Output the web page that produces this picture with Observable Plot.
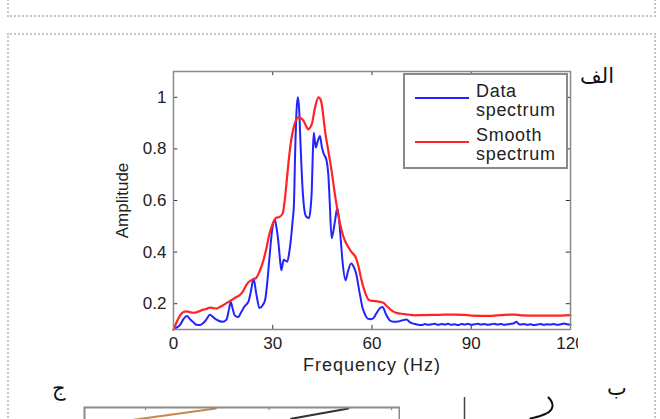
<!DOCTYPE html>
<html><head><meta charset="utf-8">
<script src="https://cdn.jsdelivr.net/npm/d3@7"></script>
<script src="https://cdn.jsdelivr.net/npm/@observablehq/plot@0.6"></script>
<style>
html,body{margin:0;padding:0;background:#fff;overflow:hidden;width:660px;height:419px;}
body{position:relative;font-family:"Liberation Sans",Arial,sans-serif;}
.box1{position:absolute;left:7px;top:-10px;width:649px;height:27px;border:2px dotted #c4c4c4;box-sizing:border-box;}
.box2{position:absolute;left:7px;top:33px;width:649px;height:420px;border:2px dotted #c4c4c4;box-sizing:border-box;}
#main{position:absolute;left:100px;top:60px;}
#legend{position:absolute;left:403px;top:73px;width:165px;height:96px;border:2px solid #8a8a8a;box-sizing:border-box;background:#fff;}
#legend svg{position:absolute;left:-2px;top:-2px;}
.ar{position:absolute;font-family:"DejaVu Sans",sans-serif;font-size:21px;color:#111;line-height:1;}
#pj{position:absolute;left:83px;top:406px;}
#pb{position:absolute;left:440px;top:395px;}
</style></head>
<body>
<div class="box1"></div>
<div class="box2"></div>
<div id="main"></div>
<div id="legend"></div>
<div class="ar" style="left:580px;top:66px;">الف</div>
<div class="ar" style="left:607px;top:378px;">ب</div>
<div class="ar" style="left:52px;top:378px;">ج</div>
<div id="pj"></div>
<div id="pb"></div>
<script>
// ---- main chart data ----
const xLabel = "Frequency (Hz)";
const yLabel = "Amplitude";
const seriesNames = ["Data\nspectrum", "Smooth\nspectrum"];
const xTicks = [0, 30, 60, 90, 120];
const yTicks = [0.2, 0.4, 0.6, 0.8, 1];

const freqBlue = [0,1,2,3,4,5,6,7,8,9,10,11,12,13,14,15,16,16.8,17.3,17.9,18.5,19.5,20.5,21.5,22.7,23.5,24.2,25,26,27,27.7,28.4,28.9,29.9,30.6,31.2,31.7,32.2,32.6,33.3,34.4,35,35.4,36,36.4,36.8,37.2,37.6,38,38.4,39,39.6,40.1,41,41.5,41.8,42.1,42.4,43,43.6,44.3,44.8,45.3,46.3,46.8,47.2,47.8,48.3,48.8,49.5,50.1,50.6,51.1,52,52.7,53.7,54.4,55.2,56.2,57.2,58,58.7,59.7,60.5,61.2,62.2,63.2,64.2,65.4,66.5,67.9,69,70.4,71.5,73,74,75,76,77,78,79,80,81,82,83,84,85,86,87,88,89,90,91,92,93,94,95,96,97,98,99,100,101,102,103,103.6,104.3,105,106,107,108,109,110,111,112,113,114,115,116,117,118,119,120];
const ampBlue = [0.100,0.108,0.118,0.140,0.152,0.140,0.128,0.118,0.117,0.125,0.140,0.157,0.148,0.138,0.132,0.130,0.138,0.180,0.207,0.180,0.155,0.148,0.168,0.190,0.210,0.255,0.298,0.240,0.183,0.195,0.215,0.290,0.363,0.493,0.525,0.490,0.440,0.370,0.330,0.370,0.363,0.400,0.440,0.520,0.584,0.800,0.950,1.000,0.950,0.818,0.649,0.560,0.538,0.532,0.580,0.640,0.780,0.863,0.805,0.830,0.850,0.810,0.785,0.753,0.700,0.600,0.454,0.480,0.519,0.571,0.520,0.440,0.363,0.291,0.324,0.356,0.345,0.317,0.246,0.181,0.155,0.142,0.140,0.145,0.160,0.180,0.187,0.160,0.135,0.130,0.131,0.135,0.139,0.128,0.121,0.118,0.117,0.121,0.118,0.120,0.122,0.118,0.121,0.119,0.122,0.118,0.120,0.117,0.121,0.119,0.122,0.118,0.120,0.122,0.119,0.121,0.118,0.120,0.122,0.119,0.121,0.118,0.120,0.122,0.125,0.130,0.122,0.119,0.121,0.118,0.120,0.117,0.119,0.121,0.118,0.120,0.119,0.121,0.118,0.120,0.123,0.120,0.118];

const freqRed = [0,1,2,3,4,5,6,7,8,9,10,11,12,13,14,15,16,17,18,19,20,21,22,23,24,25,26,27,28,29,30,31,32,33,33.8,34.4,35.4,36.6,37.8,38.6,39.3,40.2,40.8,41.4,41.8,42.8,43.8,44.4,44.8,45.3,45.8,46.8,47.8,48.8,49.8,50.7,51.5,52.2,53.7,55.2,56,56.7,57.5,58.2,59,59.7,61,62,63.4,64.5,65.9,67,68.9,71,73,75,80,85,88,90,95,100,103,105,110,115,120];
const ampRed = [0.100,0.130,0.155,0.168,0.170,0.167,0.165,0.167,0.172,0.177,0.180,0.185,0.183,0.181,0.187,0.194,0.202,0.210,0.218,0.226,0.233,0.248,0.272,0.287,0.294,0.300,0.325,0.360,0.410,0.470,0.510,0.533,0.536,0.550,0.620,0.701,0.818,0.896,0.922,0.918,0.909,0.885,0.876,0.885,0.896,0.961,1.000,0.993,0.974,0.925,0.870,0.792,0.714,0.623,0.545,0.490,0.455,0.434,0.402,0.376,0.340,0.298,0.260,0.233,0.215,0.212,0.210,0.208,0.204,0.190,0.174,0.166,0.161,0.158,0.155,0.156,0.157,0.158,0.157,0.154,0.153,0.157,0.158,0.155,0.154,0.154,0.156];

const seriesColors = ["#2323ff", "#ff2424"];

const blue = freqBlue.map((f, i) => ({f, a: ampBlue[i]}));
const red = freqRed.map((f, i) => ({f, a: ampRed[i]}));

const font = "'Liberation Sans', Arial, sans-serif";
const chart = Plot.plot({
  width: 478, height: 315,
  marginLeft: 73, marginRight: 8, marginTop: 11, marginBottom: 46,
  style: {fontFamily: font, fontSize: "17px", color: "#222", background: "white"},
  x: {domain: [0, 120], ticks: xTicks, tickSize: 0, tickPadding: 7, tickFormat: d => String(d), label: null},
  y: {domain: [0.1, 1.1], ticks: yTicks, tickSize: 0, tickPadding: 7, tickFormat: d => String(d), label: null},
  marks: [
    Plot.ruleY(yTicks, {x1: 0, x2: 1.3, stroke: "#333"}),
    Plot.ruleY(yTicks, {x1: 118.7, x2: 120, stroke: "#333"}),
    Plot.ruleX(xTicks, {y1: 0.1, y2: 0.116, stroke: "#333"}),
    Plot.ruleX(xTicks, {y1: 1.084, y2: 1.1, stroke: "#333"}),
    Plot.line(blue, {x: "f", y: "a", stroke: seriesColors[0], strokeWidth: 2, curve: "monotone-x"}),
    Plot.line(red, {x: "f", y: "a", stroke: seriesColors[1], strokeWidth: 2.2, curve: "monotone-x"}),
    Plot.frame({stroke: "#8a8a8a", strokeWidth: 1.5}),
    Plot.text([xLabel], {text: d => d, frameAnchor: "bottom", textAnchor: "middle", lineAnchor: "middle", dy: 36, fontSize: 18, fill: "#222", style: "letter-spacing:1px"}),
    Plot.text([yLabel], {text: d => d, frameAnchor: "left", textAnchor: "middle", lineAnchor: "middle", dx: -50.5, rotate: -90, fontSize: 17, fill: "#222"})
  ]
});
chart.querySelectorAll("text").forEach(t => {
  if (t.textContent === xLabel) t.setAttribute("letter-spacing", "1");
});
document.getElementById("main").appendChild(chart);

// ---- legend (HTML/SVG overlay) ----
(function () {
  const ns = "http://www.w3.org/2000/svg";
  const svg = document.createElementNS(ns, "svg");
  svg.setAttribute("width", 165); svg.setAttribute("height", 96);
  seriesNames.forEach((name, i) => {
    const y0 = 25 + i * 44;
    const ln = document.createElementNS(ns, "line");
    ln.setAttribute("x1", 12); ln.setAttribute("x2", 66);
    ln.setAttribute("y1", y0); ln.setAttribute("y2", y0);
    ln.setAttribute("stroke", seriesColors[i]); ln.setAttribute("stroke-width", 2);
    svg.appendChild(ln);
    name.split("\n").forEach((t, j) => {
      const tx = document.createElementNS(ns, "text");
      tx.setAttribute("x", 73); tx.setAttribute("y", y0 - 1 + j * 18.5);
      tx.setAttribute("font-family", font); tx.setAttribute("font-size", 18);
      tx.setAttribute("letter-spacing", "0.7");
      tx.setAttribute("fill", "#222");
      tx.textContent = t;
      svg.appendChild(tx);
    });
  });
  document.getElementById("legend").appendChild(svg);
})();

// ---- fragment of panel ج (cut off at bottom) ----
const jTicks = [19.4, 58.6, 97.5];
const jOrange = [{x: 15.6, y: 6.84}, {x: 41.7, y: 9.74}];
const jBlack = [{x: 65.6, y: 7.1}, {x: 83.8, y: 9.74}];
document.getElementById("pj").appendChild(Plot.plot({
  width: 317, height: 40, marginTop: 1, marginBottom: 0, marginLeft: 1, marginRight: 1,
  x: {domain: [0, 100], axis: null}, y: {domain: [0, 10], axis: null},
  style: {background: "transparent"},
  marks: [
    Plot.ruleX(jTicks, {y1: 10, y2: 9.2, stroke: "#777"}),
    Plot.line(jOrange, {x: "x", y: "y", stroke: "#c8894a", strokeWidth: 2}),
    Plot.line(jBlack, {x: "x", y: "y", stroke: "#333", strokeWidth: 2}),
    Plot.frame({stroke: "#8a8a8a", strokeWidth: 2})
  ]
}));

// ---- fragment of panel ب (cut off at bottom) ----
const bAxis = [24];
const bCurve = [{x: 108, y: 2}, {x: 111, y: 6}, {x: 112, y: 11}, {x: 109, y: 16}, {x: 101, y: 20}, {x: 90, y: 23}];
document.getElementById("pb").appendChild(Plot.plot({
  width: 140, height: 40, margin: 0,
  x: {domain: [0, 140], axis: null}, y: {domain: [0, 40], reverse: true, axis: null},
  style: {background: "transparent"},
  marks: [
    Plot.ruleX(bAxis, {y1: 2, y2: 40, stroke: "#444", strokeWidth: 1.5}),
    Plot.line(bCurve, {x: "x", y: "y", stroke: "#111", strokeWidth: 2, curve: "catmull-rom"})
  ]
}));
</script>
</body></html>
